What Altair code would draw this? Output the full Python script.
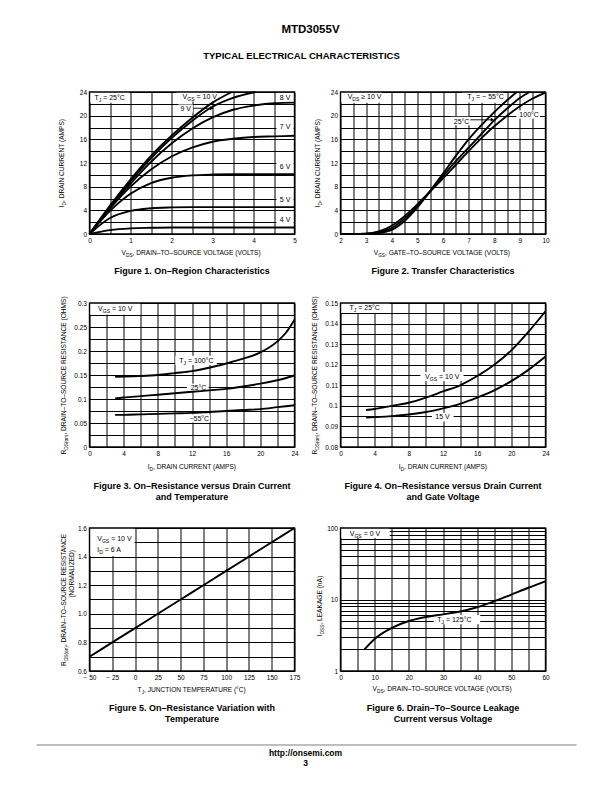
import altair as alt
import pandas as pd

FONT = "Liberation Sans"
W = 205

# ---------------- Figure 1: On-Region Characteristics ----------------
F1_VDS = [0, 0.5, 1.0, 1.5, 2.0, 2.5, 3.0, 3.5, 4.0, 4.5, 5.0]
F1_ID_4V = [0, 0.65, 0.95, 1.05, 1.1, 1.1, 1.1, 1.1, 1.1, 1.1, 1.1]
F1_ID_5V = [0, 2.7, 3.9, 4.35, 4.5, 4.55, 4.55, 4.55, 4.55, 4.55, 4.55]
F1_ID_6V = [0, 3.9, 6.8, 8.6, 9.5, 9.9, 10.05, 10.1, 10.1, 10.1, 10.1]
F1_ID_7V = [0, 4.3, 8.0, 10.9, 13.1, 14.6, 15.6, 16.1, 16.4, 16.5, 16.6]
F1_ID_8V = [0, 4.5, 8.5, 12.2, 15.3, 17.8, 19.7, 21.0, 21.7, 22.1, 22.2]
F1_VDS_9V = [0, 0.5, 1.0, 1.5, 2.0, 2.5, 3.0, 3.5, 4.05]
F1_ID_9V = [0, 4.6, 8.9, 12.8, 16.2, 19.1, 21.5, 23.0, 24.0]
F1_VDS_10V = [0, 0.5, 1.0, 1.5, 2.0, 2.5, 3.0, 3.47]
F1_ID_10V = [0, 4.8, 9.2, 13.2, 16.6, 19.6, 22.2, 24.0]
F1_XGRID = [0, 0.5, 1, 1.5, 2, 2.5, 3, 3.5, 4, 4.5, 5]
F1_YGRID = [0, 2, 4, 6, 8, 10, 12, 14, 16, 18, 20, 22, 24]

# ---------------- Figure 2: Transfer Characteristics ----------------
F2_VGS_M55 = [2, 2.5, 3, 3.5, 4, 4.5, 5, 5.5, 6, 6.5, 7, 7.5, 8, 8.5, 8.88]
F2_ID_M55 = [0, 0, 0.02, 0.2, 0.7, 2.2, 4.5, 7.3, 10.2, 13.2, 16.0, 18.4, 20.6, 22.6, 24.0]
F2_VGS_25 = [2, 2.5, 3, 3.5, 4, 4.5, 5, 5.5, 6, 6.5, 7, 7.5, 8, 8.5, 9, 9.38]
F2_ID_25 = [0, 0, 0.03, 0.3, 1.0, 2.6, 4.7, 7.2, 9.8, 12.3, 14.6, 16.9, 19.2, 21.2, 23.0, 24.0]
F2_VGS_100 = [2, 2.5, 3, 3.5, 4, 4.5, 5, 5.5, 6, 6.5, 7, 7.5, 8, 8.5, 9, 9.5, 10]
F2_ID_100 = [0, 0, 0.05, 0.45, 1.4, 3.0, 5.0, 7.2, 9.4, 11.7, 14.0, 16.2, 18.2, 20.0, 21.6, 22.9, 23.9]
F2_XGRID = [2, 2.5, 3, 3.5, 4, 4.5, 5, 5.5, 6, 6.5, 7, 7.5, 8, 8.5, 9, 9.5, 10]
F2_YGRID = [0, 2, 4, 6, 8, 10, 12, 14, 16, 18, 20, 22, 24]

# ---------------- Figure 3: RDS(on) vs ID and temperature ----------------
F3_ID_100 = [3, 4, 6, 8, 10, 12, 14, 16, 18, 20, 22, 23, 24]
F3_R_100 = [0.146, 0.147, 0.148, 0.150, 0.154, 0.158, 0.165, 0.174, 0.184, 0.197, 0.220, 0.238, 0.265]
F3_ID = [3, 4, 6, 8, 10, 12, 14, 16, 18, 20, 22, 24]
F3_R_25 = [0.101, 0.103, 0.106, 0.109, 0.112, 0.115, 0.118, 0.121, 0.126, 0.132, 0.139, 0.149]
F3_R_M55 = [0.067, 0.067, 0.068, 0.069, 0.070, 0.071, 0.073, 0.075, 0.077, 0.079, 0.083, 0.087]
F3_XGRID = [0, 2, 4, 6, 8, 10, 12, 14, 16, 18, 20, 22, 24]
F3_YGRID = [0, 0.025, 0.05, 0.075, 0.1, 0.125, 0.15, 0.175, 0.2, 0.225, 0.25, 0.275, 0.3]

# ---------------- Figure 4: RDS(on) vs ID and gate voltage ----------------
F4_ID = [3, 4, 6, 8, 10, 12, 14, 16, 18, 20, 22, 24]
F4_R_10V = [0.098, 0.0985, 0.100, 0.1015, 0.104, 0.107, 0.110, 0.1145, 0.120, 0.127, 0.136, 0.146]
F4_R_15V = [0.0943, 0.0945, 0.095, 0.0958, 0.097, 0.0988, 0.101, 0.104, 0.1075, 0.112, 0.1175, 0.124]
F4_XGRID = [0, 2, 4, 6, 8, 10, 12, 14, 16, 18, 20, 22, 24]
F4_YGRID = [0.08, 0.085, 0.09, 0.095, 0.1, 0.105, 0.11, 0.115, 0.12, 0.125, 0.13, 0.135, 0.14, 0.145, 0.15]

# ---------------- Figure 5: normalized RDS(on) vs TJ ----------------
F5_TJ = [-50, -25, 0, 25, 50, 75, 100, 125, 150, 175]
F5_R = [0.70, 0.80, 0.90, 1.00, 1.10, 1.20, 1.30, 1.40, 1.50, 1.60]
F5_XGRID = [-50, -25, 0, 25, 50, 75, 100, 125, 150, 175]
F5_YGRID = [0.6, 0.7, 0.8, 0.9, 1.0, 1.1, 1.2, 1.3, 1.4, 1.5, 1.6]

# ---------------- Figure 6: IDSS leakage vs VDS ----------------
F6_VDS = [7, 10, 15, 20, 25, 30, 35, 40, 45, 50, 55, 60]
F6_IDSS = [2.0, 2.8, 4.0, 5.0, 5.7, 6.2, 6.8, 7.8, 9.4, 11.7, 14.6, 18.0]
F6_XGRID = [0, 5, 10, 15, 20, 25, 30, 35, 40, 45, 50, 55, 60]
F6_YGRID = [1, 2, 3, 4, 5, 6, 7, 8, 9, 10, 20, 30, 40, 50, 60, 70, 80, 90, 100]

# ---------------- text metrics (Arial / Liberation Sans widths) ----------------
CW = {c: 556 for c in "0123456789"}
CW.update({" ": 278, ",": 278, ".": 278, "(": 333, ")": 333, "=": 584, "–": 556,
           "−": 584, "°": 400, "≥": 549, "-": 333, ":": 278, "/": 278})
CW.update(dict(A=667, B=667, C=722, D=722, E=667, F=611, G=778, H=722, I=278, J=500, K=667,
               L=556, M=833, N=722, O=778, P=667, Q=778, R=722, S=667, T=611, U=722, V=667,
               W=944, X=667, Y=667, Z=611))
CW.update(dict(a=556, b=556, c=500, d=556, e=556, f=278, g=556, h=556, i=222, j=222, k=500,
               l=222, m=833, n=556, o=556, p=556, q=556, r=333, s=500, t=278, u=556, v=500,
               w=722, x=500, y=500, z=500))


def tw(s, size):
    return sum(CW.get(c, 556) for c in s) / 1000.0 * size


ONE = pd.DataFrame({"k": [0]})


def rich(segs, x, y, size, align="left", angle=0, dy0=0.0, sub=0.72):
    shift = size * 0.3
    parts = []
    for t, s in segs:
        fs = size * (sub if s else 1.0)
        parts.append((t, s, fs, tw(t, fs)))
    total = sum(p[3] for p in parts)
    off = {"left": 0.0, "center": -total / 2.0, "right": -total}[align]
    out = []
    for t, s, fs, w in parts:
        core = t.strip(" ")
        lead = len(t) - len(t.lstrip(" "))
        if core:
            kw = dict(text=core, align="left", baseline="alphabetic", font=FONT,
                      fontSize=round(fs, 2), color="black",
                      dx=round(off + tw(" " * lead, fs), 2),
                      dy=round(dy0 + 0.36 * size + (shift if s else 0.0), 2))
            if angle:
                kw["angle"] = angle
            out.append(alt.Chart(ONE).mark_text(**kw).encode(x=x, y=y))
        off += w
    return out


def long_df(series):
    rows = []
    for name, xs, ys in series:
        for a, b in zip(xs, ys):
            rows.append({"s": name, "x": a, "y": b})
    return pd.DataFrame(rows)


def axis(values, expr):
    return alt.Axis(values=values, tickCount=60, labelExpr=expr, grid=True, ticks=False,
                    domain=False, title=None, labelFlush=False, labelOverlap=False,
                    labelPadding=3, labelFont=FONT, labelFontSize=6.5, labelColor="black",
                    gridColor="black", gridOpacity=1, gridWidth=1.0)


def panel(curves, xdom, ydom, xax, yax, boxes, labels, arrows, xt, yts, height, ylog=False):
    xs = alt.Scale(domain=xdom, nice=False, zero=False)
    ys = alt.Scale(domain=ydom, type="log") if ylog else alt.Scale(domain=ydom, nice=False, zero=False)
    layers = []
    bdf = pd.DataFrame(boxes, columns=["x1", "x2", "y1", "y2"])
    layers.append(alt.Chart(bdf).mark_rect(fill="white").encode(
        x=alt.X("x1:Q", scale=xs, axis=xax), x2="x2:Q",
        y=alt.Y("y1:Q", scale=ys, axis=yax), y2="y2:Q"))
    layers.append(alt.Chart(curves).mark_line(color="black", strokeWidth=1.9,
                                              interpolate="monotone").encode(
        x=alt.X("x:Q", scale=xs, axis=xax), y=alt.Y("y:Q", scale=ys, axis=yax), detail="s:N"))
    for x1, x2, yv in arrows:
        layers.append(alt.Chart(ONE).mark_rule(color="black", strokeWidth=0.9).encode(
            x=alt.datum(x1), x2=alt.datum(x2), y=alt.datum(yv)))
        layers.append(alt.Chart(ONE).mark_point(shape="triangle-right", filled=True, color="black",
                                                opacity=1, size=16).encode(
            x=alt.datum(x2), y=alt.datum(yv)))
    for segs, xv, yv, al in labels:
        layers += rich(segs, alt.datum(xv), alt.datum(yv), 7.0, al)
    segs, xv, yv, off = xt
    layers += rich(segs, alt.datum(xv), alt.datum(yv), 6.6, "center", dy0=off)
    for segs, xv, yv, off in yts:
        layers += rich(segs, alt.datum(xv), alt.datum(yv), 6.6, "center", angle=270, dy0=-off)
    layers.append(alt.Chart(ONE).mark_rect(filled=False, stroke="black", strokeWidth=1.4).encode(
        x=alt.datum(xdom[0]), x2=alt.datum(xdom[1]), y=alt.datum(ydom[0]), y2=alt.datum(ydom[1])))
    return alt.layer(*layers).properties(width=W, height=height)


INT_EXPR = "datum.value % 1 == 0 ? format(datum.value, 'd') : ''"
EVERY4 = "datum.value % 4 == 0 ? format(datum.value, 'd') : ''"

T_ID = [("I", 0), ("D", 1), (", DRAIN CURRENT (AMPS)", 0)]
T_VDS = [("V", 0), ("DS", 1), (", DRAIN–TO–SOURCE VOLTAGE (VOLTS)", 0)]
T_VGS = [("V", 0), ("GS", 1), (", GATE–TO–SOURCE VOLTAGE (VOLTS)", 0)]
T_RDS = [("R", 0), ("DS(on)", 1), (", DRAIN–TO–SOURCE RESISTANCE (OHMS)", 0)]

# ---- figure 1
f1 = panel(
    long_df([("4V", F1_VDS, F1_ID_4V), ("5V", F1_VDS, F1_ID_5V), ("6V", F1_VDS, F1_ID_6V),
             ("7V", F1_VDS, F1_ID_7V), ("8V", F1_VDS, F1_ID_8V), ("9V", F1_VDS_9V, F1_ID_9V),
             ("10V", F1_VDS_10V, F1_ID_10V)]),
    [0, 5], [0, 24], axis(F1_XGRID, INT_EXPR), axis(F1_YGRID, EVERY4),
    [(0, 0.97, 22.2, 24), (2.12, 3.1, 22.4, 24), (2.17, 2.52, 20.5, 21.9),
     (4.56, 4.98, 22.3, 23.9), (4.56, 4.98, 17.3, 18.9), (4.56, 4.98, 10.6, 12.2),
     (4.56, 4.98, 5.1, 6.7), (4.56, 4.98, 1.7, 3.3)],
    [([("T", 0), ("J", 1), (" = 25°C", 0)], 0.12, 23.1, "left"),
     ([("V", 0), ("GS", 1), (" = 10 V", 0)], 2.27, 23.2, "left"),
     ([("9 V", 0)], 2.22, 21.2, "left"),
     ([("8 V", 0)], 4.77, 23.1, "center"), ([("7 V", 0)], 4.77, 18.1, "center"),
     ([("6 V", 0)], 4.77, 11.4, "center"), ([("5 V", 0)], 4.77, 5.9, "center"),
     ([("4 V", 0)], 4.77, 2.5, "center")],
    [(2.53, 2.98, 21.25)],
    (T_VDS, 2.5, 0, 19), [(T_ID, 0, 12, 28)], 142)

# ---- figure 2
f2 = panel(
    long_df([("-55", F2_VGS_M55, F2_ID_M55), ("25", F2_VGS_25, F2_ID_25),
             ("100", F2_VGS_100, F2_ID_100)]),
    [2, 10], [0, 24], axis(F2_XGRID, INT_EXPR), axis(F2_YGRID, EVERY4),
    [(2.0, 3.62, 22.2, 24), (6.74, 8.36, 22.2, 24), (6.29, 7.06, 18.4, 19.8),
     (8.86, 9.79, 19.5, 20.9)],
    [([("V", 0), ("DS", 1), (" ≥ 10 V", 0)], 2.28, 23.2, "left"),
     ([("T", 0), ("J", 1), (" = − 55°C", 0)], 6.95, 23.2, "left"),
     ([("25°C", 0)], 6.42, 19.1, "left"),
     ([("100°C", 0)], 8.98, 20.2, "left")],
    [(7.07, 7.93, 19.3)],
    (T_VGS, 6, 0, 19), [(T_ID, 2, 12, 23)], 142)

# ---- figure 3
f3 = panel(
    long_df([("100", F3_ID_100, F3_R_100), ("25", F3_ID, F3_R_25), ("-55", F3_ID, F3_R_M55)]),
    [0, 24], [0, 0.3], axis(F3_XGRID, EVERY4),
    axis(F3_YGRID, "round(datum.value * 1000) % 50 == 0 ? format(datum.value, '~g') : ''"),
    [(0, 5.95, 0.2755, 0.3), (10.05, 14.9, 0.171, 0.19), (11.4, 13.95, 0.117, 0.132),
     (11.2, 14.1, 0.051, 0.068)],
    [([("V", 0), ("GS", 1), (" = 10 V", 0)], 1.0, 0.288, "left"),
     ([("T", 0), ("J", 1), (" = 100°C", 0)], 10.5, 0.181, "left"),
     ([("25°C", 0)], 11.85, 0.1245, "left"),
     ([("−55°C", 0)], 11.7, 0.0595, "left")],
    [],
    (T_ID, 12, 0, 20), [(T_RDS, 0, 0.15, 26)], 144)

# ---- figure 4
f4 = panel(
    long_df([("10V", F4_ID, F4_R_10V), ("15V", F4_ID, F4_R_15V)]),
    [0, 24], [0.08, 0.15], axis(F4_XGRID, EVERY4),
    axis(F4_YGRID, "round(datum.value * 1000) % 10 == 0 ? format(datum.value, '~g') : ''"),
    [(0, 5.77, 0.1451, 0.15), (9.35, 14.4, 0.1121, 0.1165), (10.7, 13.25, 0.0924, 0.0966)],
    [([("T", 0), ("J", 1), (" = 25°C", 0)], 1.05, 0.1477, "left"),
     ([("V", 0), ("GS", 1), (" = 10 V", 0)], 9.9, 0.1143, "left"),
     ([("15 V", 0)], 11.1, 0.0946, "left")],
    [],
    (T_ID, 12, 0.08, 20), [(T_RDS, 0, 0.115, 26)], 144)

# ---- figure 5
f5 = panel(
    long_df([("r", F5_TJ, F5_R)]),
    [-50, 175], [0.6, 1.6],
    axis(F5_XGRID, "datum.value < 0 ? '− ' + format(-datum.value, 'd') : format(datum.value, 'd')"),
    axis(F5_YGRID, "round(datum.value * 10) % 2 == 0 ? format(datum.value, '.1f') : ''"),
    [(-50, -0.6, 1.405, 1.6)],
    [([("V", 0), ("GS", 1), (" = 10 V", 0)], -41.5, 1.525, "left"),
     ([("I", 0), ("D", 1), (" = 6 A", 0)], -41.5, 1.452, "left")],
    [],
    ([("T", 0), ("J", 1), (", JUNCTION TEMPERATURE (°C)", 0)], 62.5, 0.6, 19),
    [([("R", 0), ("DS(on)", 1), (", DRAIN–TO–SOURCE RESISTANCE", 0)], -50, 1.1, 26),
     ([("(NORMALIZED)", 0)], -50, 1.28, 18)], 143)

# ---- figure 6
f6 = panel(
    long_df([("125", F6_VDS, F6_IDSS)]),
    [0, 60], [1, 100],
    axis(F6_XGRID, "datum.value % 10 == 0 ? format(datum.value, 'd') : ''"),
    axis(F6_YGRID, "(datum.value == 1 || datum.value == 10 || datum.value == 100) ? format(datum.value, 'd') : ''"),
    [(0, 14.4, 72.5, 100), (27.3, 40.9, 4.5, 6.05)],
    [([("V", 0), ("GS", 1), (" = 0 V", 0)], 2.7, 85, "left"),
     ([("T", 0), ("J", 1), (" = 125°C", 0)], 28.3, 5.25, "left")],
    [],
    (T_VDS, 30, 1, 18), [([("I", 0), ("DSS", 1), (", LEAKAGE (nA)", 0)], 0, 8.1, 21)], 143,
    ylog=True)


# ---------------- header, captions, footer ----------------
def txt(t, x, y, size, bold=True, color="black"):
    return alt.Chart(ONE).mark_text(text=t, font=FONT, fontSize=size,
                                    fontWeight="bold" if bold else "normal",
                                    align="center", baseline="middle", color=color).encode(
        x=alt.value(x), y=alt.value(y))


def view(layers, h):
    return alt.layer(*layers).properties(width=W, height=h)


hdr_l = view([txt("MTD3055V", 221, 21, 11.5),
              txt("TYPICAL ELECTRICAL CHARACTERISTICS", 212, 47, 9.5)], 83)
hdr_r = view([txt(" ", 100, 40, 9)], 83)

cap_a_l = view([txt("Figure 1. On–Region Characteristics", 102.5, 37, 9)], 69)
cap_a_r = view([txt("Figure 2. Transfer Characteristics", 102.5, 37, 9)], 69)
cap_b_l = view([txt("Figure 3. On–Resistance versus Drain Current", 102.5, 39, 9),
                txt("and Temperature", 102.5, 49.5, 9)], 81)
cap_b_r = view([txt("Figure 4. On–Resistance versus Drain Current", 102.5, 39, 9),
                txt("and Gate Voltage", 102.5, 49.5, 9)], 81)
footer_rule = alt.Chart(ONE).mark_rule(color="#a8a8a8", strokeWidth=1.3).encode(
    x=alt.value(-53), x2=alt.value(487), y=alt.value(74))
cap_c_l = view([txt("Figure 5. On–Resistance Variation with", 102.5, 37, 9),
                txt("Temperature", 102.5, 48, 9),
                footer_rule,
                txt("http://onsemi.com", 216, 82, 8.5),
                txt("3", 216, 92, 8.5)], 100)
cap_c_r = view([txt("Figure 6. Drain–To–Source Leakage", 102.5, 37, 9),
                txt("Current versus Voltage", 102.5, 48, 9)], 100)

chart = alt.concat(
    hdr_l, hdr_r, f1, f2, cap_a_l, cap_a_r, f3, f4, cap_b_l, cap_b_r, f5, f6, cap_c_l, cap_c_r,
    columns=2, spacing={"row": 0, "column": 46}, bounds="flush", align="each",
).properties(
    padding={"left": 26.5, "top": 0, "right": 5, "bottom": 5}
).configure_view(stroke="transparent")

chart.save("out.html", embed_options={"renderer": "svg", "actions": False})
